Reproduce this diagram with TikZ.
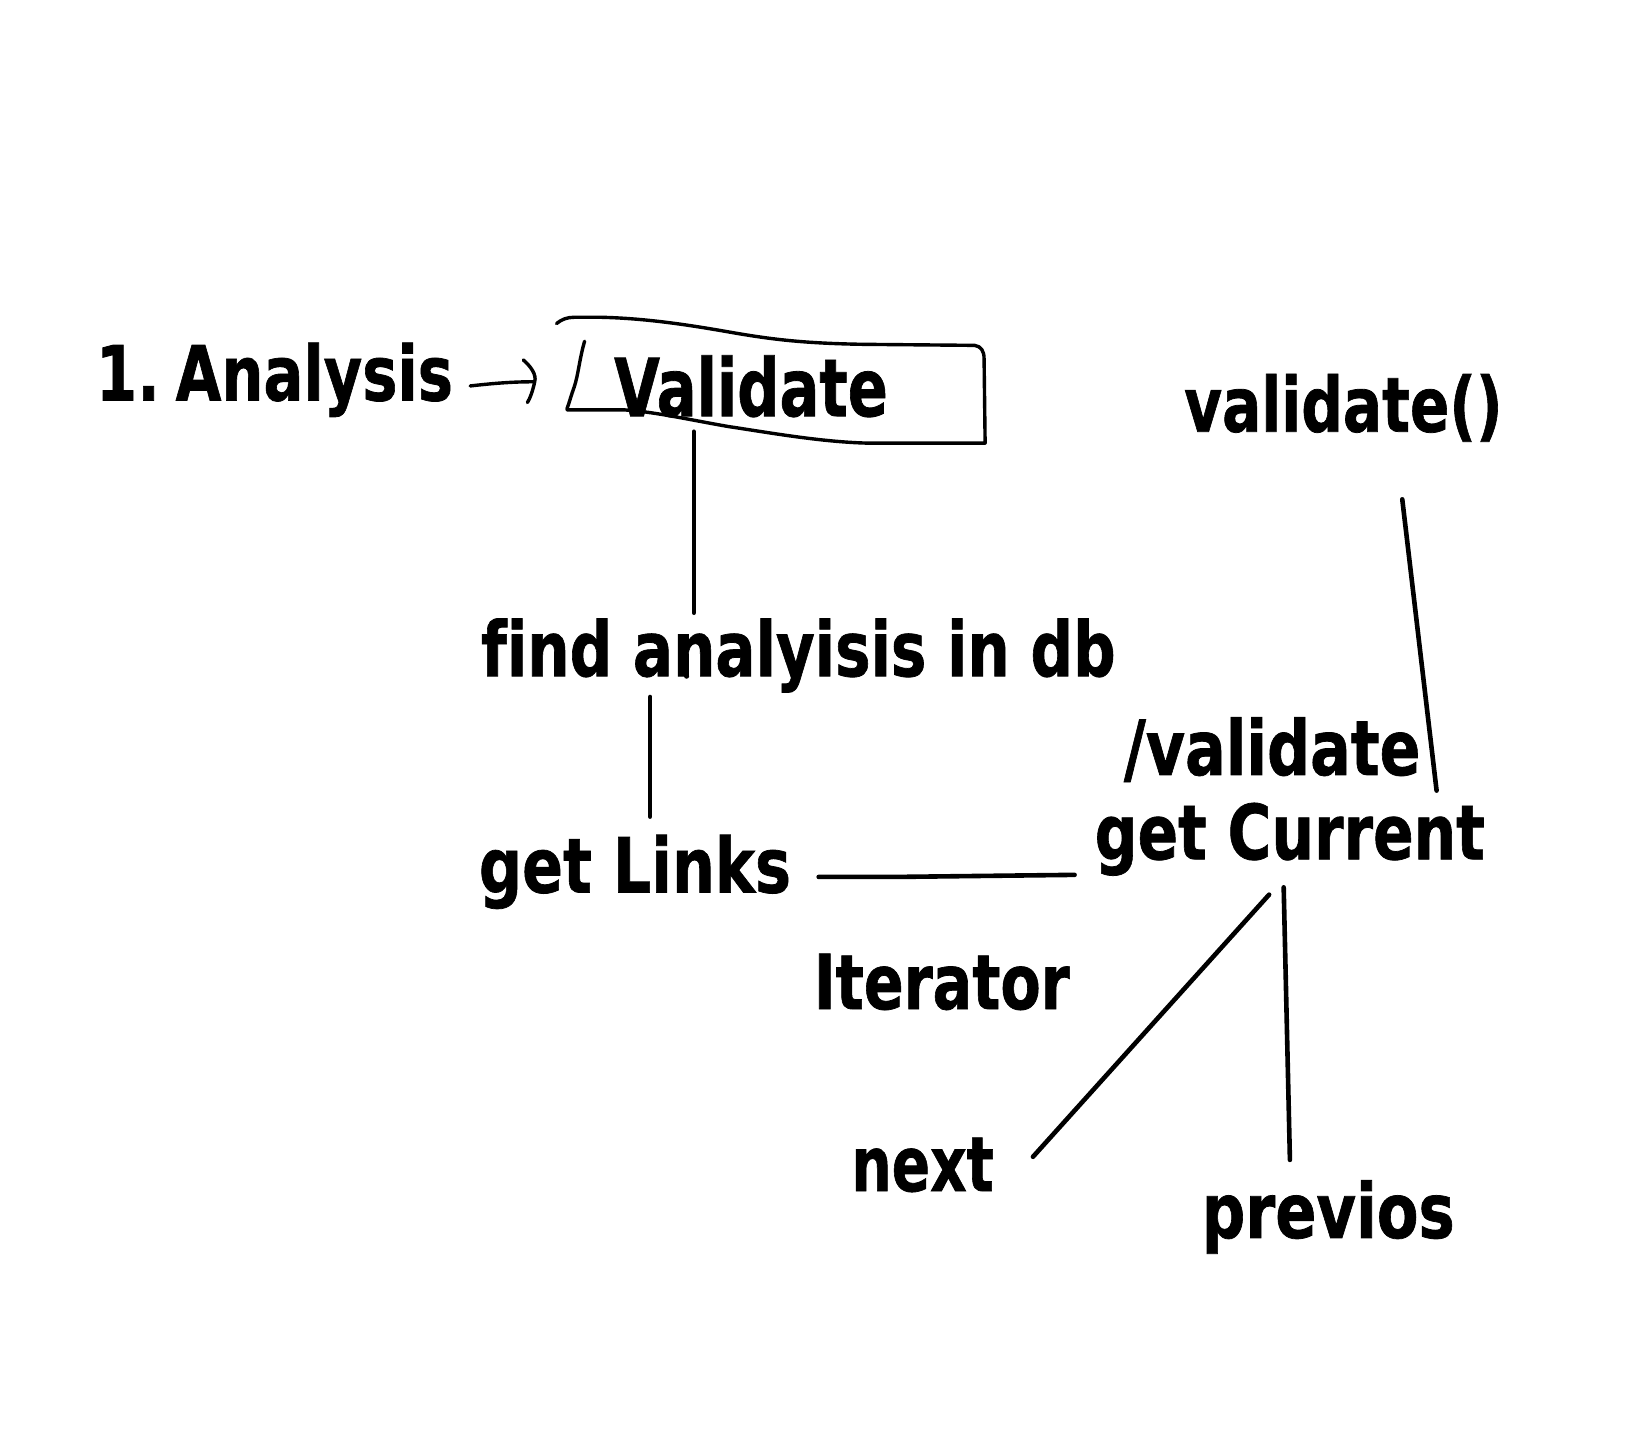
\documentclass[tikz,border=0pt]{standalone}
\usepackage{fontspec}
\setmainfont{DejaVu Sans}[Ligatures=NoCommon,BoldFeatures={FakeBold=1}]
\usepackage{graphicx}
\newdimen\pu \pu=0.52pt
\newcommand{\fw}[2]{\resizebox{#1\pu}{\height}{#2}}
\begin{document}
\begin{tikzpicture}[x=0.52pt,y=-0.52pt,
 lbl/.style={anchor=base west,inner sep=0pt,font=\fontsize{38}{40}\selectfont\bfseries},
 conn/.style={line width=2.3pt,line cap=round},
 hand/.style={line width=1.7pt,line cap=round,line join=round}]
\useasboundingbox[fill=white] (0,0) rectangle (1565,1373);
% texts
\node[lbl] (analysis) at (92,385) {\fw{343}{1.\kern-0.08em\ Analysis}};
\node[lbl,font=\fontsize{40}{42}\selectfont\bfseries] (validate) at (590,400) {\fw{263}{Validate}};
\node[lbl] (validatefn) at (1138,415) {\fw{306}{validate()}};
\node[lbl] (find) at (462,650) {\fw{610}{find analyisis in db}};
\node[lbl] (slashval) at (1080,745) {\fw{285}{/validate}};
\node[lbl] (getcur) at (1052,826) {\fw{375}{get Current}};
\node[lbl] (getlinks) at (460,858) {\fw{300}{get Links}};
\node[lbl] (iter) at (782,970) {\fw{246}{Iterator}};
\node[lbl] (next) at (818,1145) {\fw{137}{next}};
\node[lbl] (prev) at (1155,1190) {\fw{243}{previos}};
% connector end points
\coordinate (a1) at (452,371);
\coordinate (a2) at (512,367);
\coordinate (v1) at (667,415);
\coordinate (v2) at (667,589);
\coordinate (f1) at (625,670);
\coordinate (f2) at (625,785);
\coordinate (h1) at (787,843);
\coordinate (h2) at (1033,841);
\coordinate (d1) at (1348,480);
\coordinate (d2) at (1381,760);
\coordinate (n1) at (1220,860);
\coordinate (n2) at (993,1112);
\coordinate (p1) at (1234,853);
\coordinate (p2) at (1240,1115);
% arrow from Analysis to Validate (hand drawn)
\draw[hand] (a1) .. controls (470,369) and (490,367) .. (a2);
\draw[hand] (503,346) .. controls (510,352) and (516,360) .. (514,367) .. controls (512,376) and (510,382) .. (507,387);
% hand drawn box around Validate
\draw[hand] (535,311) .. controls (540,307) and (545,305) .. (552,305)
  -- (578,305) .. controls (620,306) and (660,312) .. (700,319)
  .. controls (740,326) and (770,330) .. (830,331) -- (937,332)
  .. controls (943,333) and (946,337) .. (946,345) -- (947,426) -- (835,426)
  .. controls (790,425) and (740,416) .. (700,410)
  .. controls (660,403) and (630,396) .. (600,394) -- (545,394);
\draw[hand] (562,328) .. controls (557,345) and (556,360) .. (552,372) .. controls (549,380) and (547,388) .. (545,393);
% connectors
\draw[conn] (v1) -- (v2);
\draw[conn] (f1) -- (f2);
\draw[conn] (h1) -- (860,843) -- (1033,841) -- (h2);
\draw[conn] (d1) -- (d2);
\draw[conn] (n1) -- (n2);
\draw[conn] (p1) -- (p2);
\fill (660,650) circle (2.5);
\end{tikzpicture}
\end{document}
